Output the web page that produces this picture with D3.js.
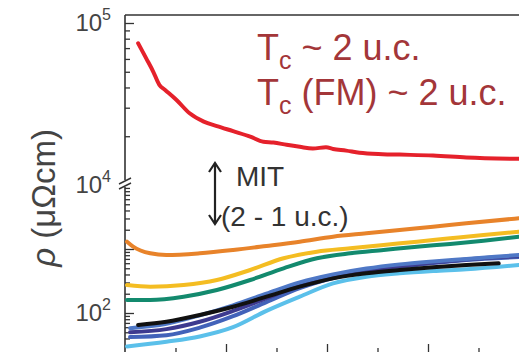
<!DOCTYPE html>
<html>
<head>
<meta charset="utf-8">
<script src="https://cdn.jsdelivr.net/npm/d3@7"></script>
<style>
  body { margin: 0; background: #fff; }
  svg { display: block; font-family: "Liberation Sans", Arial, sans-serif; }
</style>
</head>
<body>
<div id="chart"></div>
<script>
// temperature (K) / resistivity (uOhm cm)
var T_red = [13, 21, 28, 34, 40, 51, 64, 78, 91, 107, 124, 137, 147, 160, 173, 186, 199, 206, 219, 232, 255, 272, 305, 338, 390]
var rho_red = [75000, 60500, 50000, 41500, 38500, 33500, 27700, 24600, 23100, 21500, 19900, 18500, 18300, 17700, 17200, 16800, 17100, 16700, 16300, 15800, 15500, 15400, 15200, 14800, 14500]

var T_orange = [2, 8, 25, 41, 74, 107, 140, 173, 206, 239, 272, 305, 338, 390]
var rho_orange = [1300, 1090, 857, 806, 857, 964, 1115, 1300, 1556, 1758, 1983, 2230, 2520, 3020]

var T_mid = [2, 25, 58, 91, 124, 157, 190, 223, 256, 289, 322, 355, 390]
var rho_yellow = [274, 258, 274, 328, 470, 716, 908, 1025, 1155, 1300, 1468, 1655, 1862]
var rho_green = [160, 160, 180, 229, 328, 499, 716, 857, 964, 1086, 1197, 1349, 1556]

var T_blue = [5, 41, 74, 107, 140, 173, 206, 239, 272, 305, 338, 390]
var rho_blueA = [58, 68, 92, 132, 200, 300, 400, 495, 575, 640, 700, 806]
var rho_navy = [50, 56, 73, 108, 170, 274, 380, 470, 540, 615, 686, 778]
var rho_royal = [42, 45, 59, 89, 148, 245, 352, 453, 525, 606, 676, 750]

var T_cyan = [2, 41, 74, 107, 140, 173, 206, 239, 272, 305, 338, 390]
var rho_cyan = [30, 35.6, 43, 60, 108, 180, 290, 369, 417, 453, 482, 562]

var T_black = [13, 41, 74, 107, 140, 173, 206, 239, 272, 305, 338, 370]
var rho_black = [65, 73, 93, 125, 180, 258, 348, 417, 470, 518, 562, 598]

var xMajor = [100, 200, 300]
var xMinor = [50, 150, 250, 350]
var upMajor = [1e5]
var upMinor = [2e4, 3e4, 4e4, 5e4, 6e4, 7e4, 8e4, 9e4]
var loMajor = [100, 1000]
var loMinor = [30, 40, 50, 60, 70, 80, 90, 200, 300, 400, 500, 600, 700, 800, 900, 2000, 3000, 4000, 5000, 6000, 7000, 8000, 9000]

var W = 519, H = 352

var svg = d3.select("#chart").append("svg")
  .attr("width", W)
  .attr("height", H)

var x = d3.scaleLinear().domain([0, 400]).range([125, 529])
var yUp = d3.scaleLog().domain([1e4, 1e5]).range([185, 23])
var yLo = d3.scaleLog().domain([1e2, 1e4]).range([313, 185])

var axisColor = "#333"

// frame: top line + left axis with a break
svg.append("line")
  .attr("x1", 125).attr("x2", W + 5).attr("y1", 15).attr("y2", 15)
  .attr("stroke", axisColor).attr("stroke-width", 1.6)

svg.append("line")
  .attr("x1", 125).attr("x2", 125).attr("y1", 15).attr("y2", 180)
  .attr("stroke", axisColor).attr("stroke-width", 1.6)
svg.append("line")
  .attr("x1", 125).attr("x2", 125).attr("y1", 187).attr("y2", 360)
  .attr("stroke", axisColor).attr("stroke-width", 1.6)

// break marks
;[0, 5].forEach(function (dy) {
  svg.append("line")
    .attr("x1", 119).attr("y1", 184 + dy)
    .attr("x2", 131).attr("y2", 178 + dy)
    .attr("stroke", axisColor).attr("stroke-width", 1.4)
})

// y ticks (inward)
function yTicks(scale, vals, len) {
  var g = svg.append("g")
    .attr("transform", "translate(125,0)")
    .call(d3.axisLeft(scale).tickValues(vals).tickSize(-len).tickFormat(""))
  g.select(".domain").remove()
  g.selectAll("line").attr("stroke", axisColor).attr("stroke-width", 1.3)
}
yTicks(yUp, upMajor, 9)
yTicks(yUp, upMinor, 5)
yTicks(yLo, loMajor, 9)
yTicks(yLo, loMinor, 5)

// x ticks at the bottom (inward, axis line below the picture)
function xTicks(vals, len) {
  var g = svg.append("g")
    .attr("transform", "translate(0,354)")
    .call(d3.axisBottom(x).tickValues(vals).tickSize(-len).tickFormat(""))
  g.select(".domain").remove()
  g.selectAll("line").attr("stroke", axisColor).attr("stroke-width", 1.3)
}
xTicks(xMajor, 10)
xTicks(xMinor, 6)

// y tick labels 10^n
var tickLabels = [
  { v: 1e5, s: yUp, e: "5" },
  { v: 1e4, s: yUp, e: "4" },
  { v: 1e2, s: yLo, e: "2" }
]
tickLabels.forEach(function (d) {
  var t = svg.append("text")
    .attr("x", 111)
    .attr("y", d.s(d.v) + 8)
    .attr("text-anchor", "end")
    .attr("fill", "#444")
    .style("font-size", "24px")
  t.append("tspan").text("10")
  t.append("tspan").attr("dy", -11).style("font-size", "16px").text(d.e)
})

// y label
var yl = svg.append("text")
  .attr("transform", "translate(55,198) rotate(-90)")
  .attr("text-anchor", "middle")
  .attr("fill", "#444")
  .style("font-size", "33px")
yl.append("tspan").style("font-style", "italic").text("\u03c1")
yl.append("tspan").text(" (\u03bc\u03a9cm)")

// curves
var series = [
  { T: T_orange, r: rho_orange, s: yLo, c: "#e8832a" },
  { T: T_mid, r: rho_yellow, s: yLo, c: "#f4bd22" },
  { T: T_mid, r: rho_green, s: yLo, c: "#138a6e" },
  { T: T_cyan, r: rho_cyan, s: yLo, c: "#5bc0ea" },
  { T: T_blue, r: rho_royal, s: yLo, c: "#4262b9" },
  { T: T_blue, r: rho_navy, s: yLo, c: "#3d3a8f" },
  { T: T_blue, r: rho_blueA, s: yLo, c: "#4f78c6" },
  { T: T_black, r: rho_black, s: yLo, c: "#111" },
  { T: T_red, r: rho_red, s: yUp, c: "#e5212b" }
]

series.forEach(function (d) {
  var pts = d.T.map(function (t, i) { return [t, d.r[i]] })
  var line = d3.line()
    .x(function (p) { return x(p[0]) })
    .y(function (p) { return d.s(p[1]) })
    .curve(d3.curveMonotoneX)
  svg.append("path")
    .datum(pts)
    .attr("d", line)
    .attr("fill", "none")
    .attr("stroke", d.c)
    .attr("stroke-width", 4)
    .attr("stroke-linejoin", "round")
    .attr("stroke-linecap", "round")
})

// annotations
var red = "#a33639"
function tcLine(y, rest) {
  var t = svg.append("text")
    .attr("x", 257).attr("y", y)
    .attr("fill", red)
    .style("font-size", "36px")
  t.append("tspan").text("T")
  t.append("tspan").attr("dy", 9).style("font-size", "25px").text("c")
  t.append("tspan").attr("dy", -9).text(rest)
}
tcLine(60, " ~ 2 u.c.")
tcLine(105, " (FM) ~ 2 u.c.")

// MIT double arrow
var ax = 215
svg.append("line")
  .attr("x1", ax).attr("x2", ax).attr("y1", 163).attr("y2", 224)
  .attr("stroke", "#222").attr("stroke-width", 2.2)
svg.append("path")
  .attr("d", "M" + (ax - 6) + ",172 L" + ax + ",163 L" + (ax + 6) + ",172")
  .attr("fill", "none").attr("stroke", "#222").attr("stroke-width", 2.2)
svg.append("path")
  .attr("d", "M" + (ax - 6) + ",215 L" + ax + ",224 L" + (ax + 6) + ",215")
  .attr("fill", "none").attr("stroke", "#222").attr("stroke-width", 2.2)

svg.append("text")
  .attr("x", 236).attr("y", 186)
  .attr("fill", "#333")
  .style("font-size", "28px")
  .text("MIT")
svg.append("text")
  .attr("x", 221).attr("y", 226)
  .attr("fill", "#333")
  .style("font-size", "28px")
  .text("(2 - 1 u.c.)")
</script>
</body>
</html>
